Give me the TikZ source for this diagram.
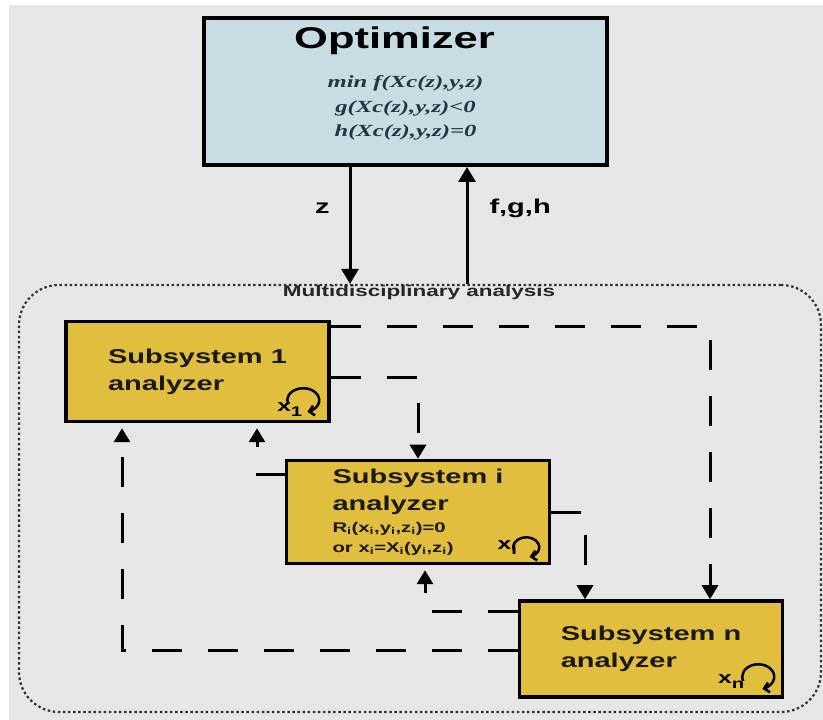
\documentclass[tikz,border=0pt]{standalone}
\usepackage{fontspec}
\usepackage{tikz}
\usetikzlibrary{arrows.meta,positioning}

\newfontfamily\boxfont{Liberation Sans Bold}[FakeStretch=1.45]
\newfontfamily\eqfont{Liberation Serif Bold Italic}[FakeStretch=1.45]
\newcommand{\lowidx}[1]{\raisebox{-5pt}{\fontsize{14}{14}\selectfont#1}}

\definecolor{bggray}{RGB}{230,230,230}
\definecolor{optblue}{RGB}{200,220,228}
\definecolor{subgold}{RGB}{226,190,62}
\definecolor{eqslate}{RGB}{40,52,66}

\begin{document}
\begin{tikzpicture}[x=1pt,y=1pt,
  subbox/.style={draw=black, line width=3.5pt, fill=subgold, minimum width=263pt, minimum height=100pt,
    align=left, inner sep=0pt, text=black!90, font=\boxfont\fontsize{20}{27}\selectfont},
  link/.style={line width=3pt, dash pattern=on 30pt off 26pt, -{Triangle[length=14pt,width=16pt]}},
  linkup/.style={link, shorten >=5pt},
  flow/.style={line width=3pt, -{Triangle[length=15pt,width=17pt]}},
  selfloop/.style={line width=2.5pt, -{Straight Barb[length=5pt,width=10pt]}},
  xlab/.style={font=\boxfont\fontsize{17}{17}\selectfont, inner sep=0pt}]

\useasboundingbox (0,0) rectangle (823,720);
\fill[bggray] (9,0) rectangle (823,715);

% optimizer
\node[draw=black, line width=4pt, fill=optblue, minimum width=403pt, minimum height=147pt] (opt) at (405.5,628.5) {};
\node[font=\boxfont\fontsize{30}{36}\selectfont, anchor=base, inner sep=0pt] (opttitle) at ([xshift=-11pt,yshift=-33pt]opt.north) {Optimizer};
\node[font=\eqfont\fontsize{17}{24.5}\selectfont, text=eqslate, align=center, inner sep=0pt] (optcons) at ([yshift=-16.5pt]opt.center)
  {min f(Xc(z),y,z)\\g(Xc(z),y,z)<0\\h(Xc(z),y,z)=0};

% multidisciplinary analysis
\node[draw=black!80, line width=2.2pt, dash pattern=on 2.5pt off 2.6pt, rounded corners=40pt,
  minimum width=802pt, minimum height=427pt] (mda) at (420,221.5) {};
\node[font=\boxfont\fontsize{15.5}{18}\selectfont, text=black!85, inner sep=0pt] (mdalab) at ([xshift=-1pt,yshift=-9pt]mda.north) {Multidisciplinary analysis};

\coordinate (zx) at (350,0);
\coordinate (fx) at (467,0);
\draw[flow] (opt.south -| zx) -- (mda.north -| zx)
  node[pos=0.35, left=19pt, inner sep=0pt, font=\boxfont\fontsize{20}{24}\selectfont] (zlab) {z};
\draw[flow] (mda.north -| fx) -- (opt.south -| fx)
  node[pos=0.65, right=21pt, inner sep=0pt, font=\boxfont\fontsize{20}{24}\selectfont] (fghlab) {f,g,h};

% subsystems
\node[subbox] (sub1) at (197.5,348.5) {Subsystem 1\\analyzer};
\node[subbox, minimum height=103pt] (subi) at (418,208)
  {Subsystem i\\analyzer\\[-5pt]{\fontsize{14}{20}\selectfont R\textsubscript{i}(x\textsubscript{i},y\textsubscript{i},z\textsubscript{i})=0}\\[-7pt]{\fontsize{14}{20}\selectfont or x\textsubscript{i}=X\textsubscript{i}(y\textsubscript{i},z\textsubscript{i})}};
\node[subbox, minimum height=96pt] (subn) at (651,71) {Subsystem n\\analyzer};

% couplings
\draw[link] ([yshift=44.5pt]sub1.east) -| ([xshift=59pt]subn.north);
\draw[link] ([yshift=-6.5pt]sub1.east) -| (subi.north);
\draw[link] ([yshift=-1pt]subi.east) -| ([xshift=-66pt]subn.north);
\draw[linkup] ([yshift=-2pt]subn.west) -| ([xshift=-75.5pt]sub1.south);
\draw[linkup] ([yshift=37pt]subn.west) -| ([xshift=7pt]subi.south);
\draw[linkup] ([yshift=37pt]subi.west) -| ([xshift=59.5pt]sub1.south);

% local solvers
\draw[selfloop] ([shift={(-27.5pt,23pt)}]sub1.south east) ++(200:16pt and 12pt) arc[start angle=200, end angle=-75, x radius=16pt, y radius=12pt];
\node[xlab] (x1lab) at ([shift={(-41pt,14pt)}]sub1.south east) {x\lowidx{1}};
\draw[selfloop] ([shift={(-25pt,18pt)}]subi.south east) ++(200:13pt and 10pt) arc[start angle=200, end angle=-75, x radius=13pt, y radius=10pt];
\node[xlab] (xilab) at ([shift={(-44pt,18pt)}]subi.south east) {x\lowidx{i}};
\draw[selfloop] ([shift={(-26pt,22pt)}]subn.south east) ++(200:16pt and 12.5pt) arc[start angle=200, end angle=-75, x radius=16pt, y radius=12.5pt];
\node[xlab] (xnlab) at ([shift={(-53pt,17pt)}]subn.south east) {x\lowidx{n}};

\end{tikzpicture}
\end{document}
